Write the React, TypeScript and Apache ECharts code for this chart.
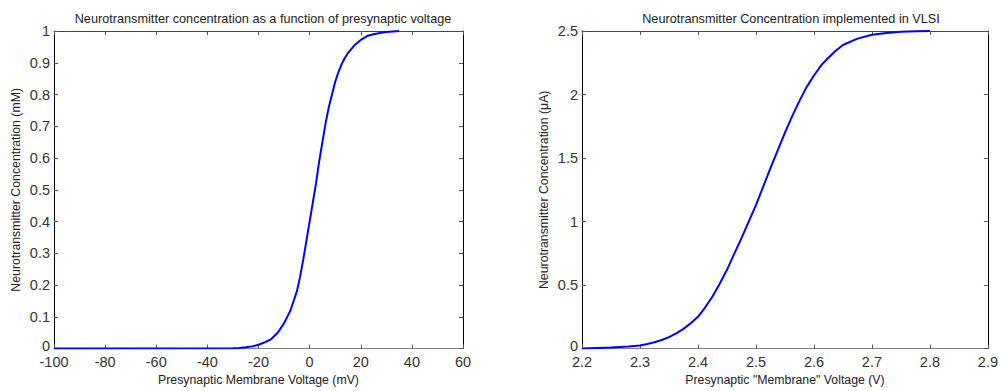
import React, { useEffect, useRef } from "react";
import * as echarts from "echarts";

// Left panel: neurotransmitter concentration (mM) vs presynaptic voltage (mV)
const leftVoltage = [-100, -30, -27.5, -25, -22.5, -20, -17.5, -15, -12.5, -10, -8.75, -7.5, -6.25, -5, -3.75, -2.5, -1.25, 0, 1.25, 2.5, 3.75, 5, 6.25, 7.5, 8.75, 10, 11.25, 12.5, 13.75, 15, 17.5, 20, 22.5, 25, 27.5, 30, 35];
const leftConc = [0, 0.001, 0.002, 0.004, 0.007, 0.012, 0.02, 0.03, 0.05, 0.08, 0.1, 0.12, 0.15, 0.18, 0.225, 0.28, 0.34, 0.40, 0.46, 0.52, 0.59, 0.65, 0.71, 0.76, 0.80, 0.84, 0.87, 0.895, 0.915, 0.93, 0.955, 0.972, 0.984, 0.99, 0.994, 0.997, 1.0];

// Right panel: VLSI implementation, current (µA) vs "membrane" voltage (V)
const rightVoltage = [2.2, 2.25, 2.28, 2.3, 2.3125, 2.325, 2.3375, 2.35, 2.3625, 2.375, 2.3875, 2.4, 2.4125, 2.425, 2.4375, 2.45, 2.4625, 2.475, 2.4875, 2.5, 2.5125, 2.525, 2.5375, 2.55, 2.5625, 2.575, 2.5875, 2.6, 2.6125, 2.625, 2.6375, 2.65, 2.675, 2.7, 2.725, 2.75, 2.775, 2.8];
const rightConc = [0.0, 0.008, 0.016, 0.025, 0.036, 0.05, 0.068, 0.09, 0.12, 0.155, 0.2, 0.25, 0.325, 0.41, 0.51, 0.62, 0.745, 0.87, 1.0, 1.13, 1.275, 1.42, 1.56, 1.70, 1.83, 1.95, 2.06, 2.15, 2.23, 2.29, 2.345, 2.39, 2.44, 2.47, 2.485, 2.495, 2.498, 2.5];

const titles = [
  "Neurotransmitter concentration as a function of presynaptic voltage",
  "Neurotransmitter Concentration implemented in VLSI",
];
const xNames = ["Presynaptic Membrane Voltage (mV)", 'Presynaptic "Membrane" Voltage (V)'];
const yNames = ["Neurotransmitter Concentration (mM)", "Neurotransmitter Concentration (\u03BCA)"];

const FONT = "'Liberation Sans', Arial, Helvetica, sans-serif";
const TEXT = "#222";

export default function App() {
  const ref = useRef<HTMLDivElement>(null);

  useEffect(() => {
    if (!ref.current) return;
    const chart = echarts.init(ref.current, null, { renderer: "svg" });

    const grids = [
      { left: 54, top: 31, width: 409, height: 322 },
      { left: 582, top: 31, width: 409, height: 322 },
    ];

    const xCfg = [
      { min: -100, max: 60, interval: 20, fmt: (v: number) => String(Math.round(v)) },
      { min: 2.2, max: 2.9, interval: 0.1, fmt: (v: number) => (Math.round(v * 10) / 10).toFixed(1) },
    ];
    const yFmt = (v: number) => {
      const s = String(Math.round(v * 10) / 10);
      return v === 0 ? "{z|" + s + "}" : s;
    };
    const yCfg = [
      { min: 0, max: 1, interval: 0.1 },
      { min: 0, max: 2.5, interval: 0.5 },
    ];

    const tick = { show: true, inside: true, length: 4, lineStyle: { color: "#555" } };

    const xAxis: any[] = [];
    const yAxis: any[] = [];
    [0, 1].forEach((g) => {
      xAxis.push({
        type: "value",
        gridIndex: g,
        position: "bottom",
        min: xCfg[g].min,
        max: xCfg[g].max,
        interval: xCfg[g].interval,
        name: xNames[g],
        nameLocation: "middle",
        nameGap: 24,
        nameTextStyle: { fontFamily: FONT, fontSize: 12.3, color: TEXT },
        axisLine: { show: true, onZero: false, lineStyle: { color: "#808080", width: 1 } },
        axisTick: tick,
        axisLabel: { fontFamily: FONT, fontSize: 14.5, color: "#333", margin: 7, lineHeight: 12, formatter: xCfg[g].fmt },
        splitLine: { show: false },
      });
      xAxis.push({
        type: "value",
        gridIndex: g,
        position: "top",
        min: xCfg[g].min,
        max: xCfg[g].max,
        interval: xCfg[g].interval,
        axisLine: { show: true, onZero: false, lineStyle: { color: "#444", width: 1 } },
        axisTick: tick,
        axisLabel: { show: false },
        splitLine: { show: false },
      });
      yAxis.push({
        type: "value",
        gridIndex: g,
        position: "left",
        min: yCfg[g].min,
        max: yCfg[g].max,
        interval: yCfg[g].interval,
        name: yNames[g],
        nameLocation: "middle",
        nameGap: 32,
        nameRotate: 90,
        nameTextStyle: { fontFamily: FONT, fontSize: 12.3, color: TEXT },
        axisLine: { show: true, onZero: false, lineStyle: { color: "#000", width: 1 } },
        axisTick: tick,
        axisLabel: {
          fontFamily: FONT,
          fontSize: 14.5,
          color: "#333",
          margin: 4,
          lineHeight: 10,
          formatter: yFmt,
          rich: { z: { fontFamily: FONT, fontSize: 14.5, color: "#333", lineHeight: 10, padding: [0, 0, 5, 0] } },
        },
        splitLine: { show: false },
      });
      yAxis.push({
        type: "value",
        gridIndex: g,
        position: "right",
        min: yCfg[g].min,
        max: yCfg[g].max,
        interval: yCfg[g].interval,
        axisLine: { show: true, onZero: false, lineStyle: { color: "#000", width: 1 } },
        axisTick: tick,
        axisLabel: { show: false },
        splitLine: { show: false },
      });
    });

    const lineSeries = (xi: number, yi: number, xs: number[], ys: number[]) => ({
      type: "line",
      xAxisIndex: xi,
      yAxisIndex: yi,
      data: xs.map((v, i) => [v, ys[i]]),
      smooth: false,
      showSymbol: false,
      lineStyle: { color: "#0000ff", width: 2 },
    });

    chart.setOption({
      animation: false,
      backgroundColor: "#fff",
      title: [
        {
          text: titles[0],
          left: 258,
          top: 7,
          textAlign: "center",
          textStyle: { fontFamily: FONT, fontSize: 12.7, fontWeight: "normal", color: TEXT },
        },
        {
          text: titles[1],
          left: 786,
          top: 7,
          textAlign: "center",
          textStyle: { fontFamily: FONT, fontSize: 12.7, fontWeight: "normal", color: TEXT },
        },
      ],
      grid: grids,
      xAxis,
      yAxis,
      series: [
        lineSeries(0, 0, leftVoltage, leftConc),
        lineSeries(2, 2, rightVoltage, rightConc),
      ],
    });

    return () => chart.dispose();
  }, []);

  return (
    <div
      ref={ref}
      style={{ position: "fixed", left: 0, top: 0, width: 1001, height: 391, background: "#fff" }}
    />
  );
}
